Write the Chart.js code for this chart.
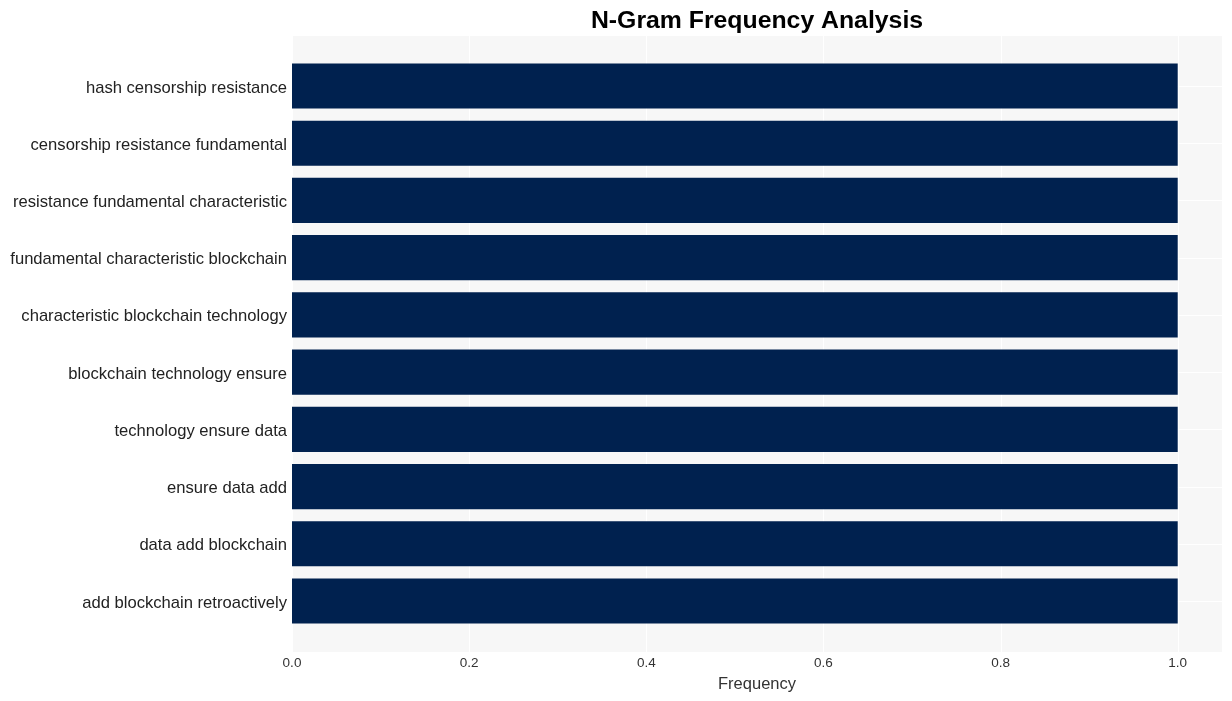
<!DOCTYPE html>
<html><head><meta charset="utf-8">
<script src="https://cdn.jsdelivr.net/npm/chart.js@4"></script>
<style>html,body{margin:0;padding:0;background:#fff}#wrap{width:1232px;height:701px}</style>
</head><body><div id="wrap"><canvas id="c"></canvas></div>
<script>
const categories = ["hash censorship resistance","censorship resistance fundamental","resistance fundamental characteristic","fundamental characteristic blockchain","characteristic blockchain technology","blockchain technology ensure","technology ensure data","ensure data add","data add blockchain","add blockchain retroactively"];
const frequencies = [1,1,1,1,1,1,1,1,1,1];
const xTicks = [0,0.2,0.4,0.6,0.8,1.0];

const FONT = "'Liberation Sans', Arial, sans-serif";
const BG_TOP = 36, BG_BOTTOM = 652;

const bgPlugin = {
  id: 'bg',
  beforeDraw(chart) {
    const {ctx, chartArea} = chart;
    const xs = chart.scales.x, ys = chart.scales.y;
    ctx.save();
    ctx.fillStyle = '#f7f7f7';
    ctx.fillRect(chartArea.left, BG_TOP, chartArea.right - chartArea.left, BG_BOTTOM - BG_TOP);
    ctx.strokeStyle = '#ffffff';
    ctx.lineWidth = 1;
    xTicks.forEach(v => {
      const px = Math.round(xs.getPixelForValue(v)) + 0.5;
      ctx.beginPath(); ctx.moveTo(px, BG_TOP); ctx.lineTo(px, BG_BOTTOM); ctx.stroke();
    });
    categories.forEach((c, i) => {
      const py = Math.round(ys.getPixelForValue(i)) + 0.5;
      ctx.beginPath(); ctx.moveTo(chartArea.left, py); ctx.lineTo(chartArea.right, py); ctx.stroke();
    });
    ctx.fillStyle = '#000';
    ctx.font = "bold 24.8px " + FONT;
    ctx.textAlign = 'center'; ctx.textBaseline = 'middle';
    ctx.fillText('N-Gram Frequency Analysis', (chartArea.left + chartArea.right) / 2, 21);
    ctx.restore();
  }
};

new Chart(document.getElementById('c'), {
  type: 'bar',
  data: {
    labels: categories,
    datasets: [{ data: frequencies, backgroundColor: '#00214f', borderWidth: 0, barPercentage: 0.79, categoryPercentage: 1.0 }]
  },
  options: {
    indexAxis: 'y',
    responsive: true,
    maintainAspectRatio: false,
    animation: false,
    devicePixelRatio: 1,
    layout: { padding: { top: 57.4, right: 10, left: 0, bottom: 0 } },
    plugins: { legend: { display: false }, tooltip: { enabled: false }, title: { display: false } },
    scales: {
      x: {
        type: 'linear', min: 0, max: 1.05,
        grid: { display: false, drawTicks: false },
        border: { display: false },
        ticks: { stepSize: 0.2, includeBounds: false, padding: 26, color: '#333', font: { family: FONT, size: 13.5 },
          callback: v => Number(v).toFixed(1) },
        title: { display: true, text: 'Frequency', color: '#333', font: { family: FONT, size: 16.5 }, padding: { top: 0, bottom: 7 } },
        afterFit(s) { s.height = 71.4; }
      },
      y: {
        type: 'category',
        offset: true,
        grid: { display: false, drawTicks: false },
        border: { display: false },
        ticks: { padding: 5, labelOffset: 2, color: '#222', font: { family: FONT, size: 16.6 } },
        afterFit(s) { s.width = 292; }
      }
    }
  },
  plugins: [bgPlugin]
});
</script></body></html>
